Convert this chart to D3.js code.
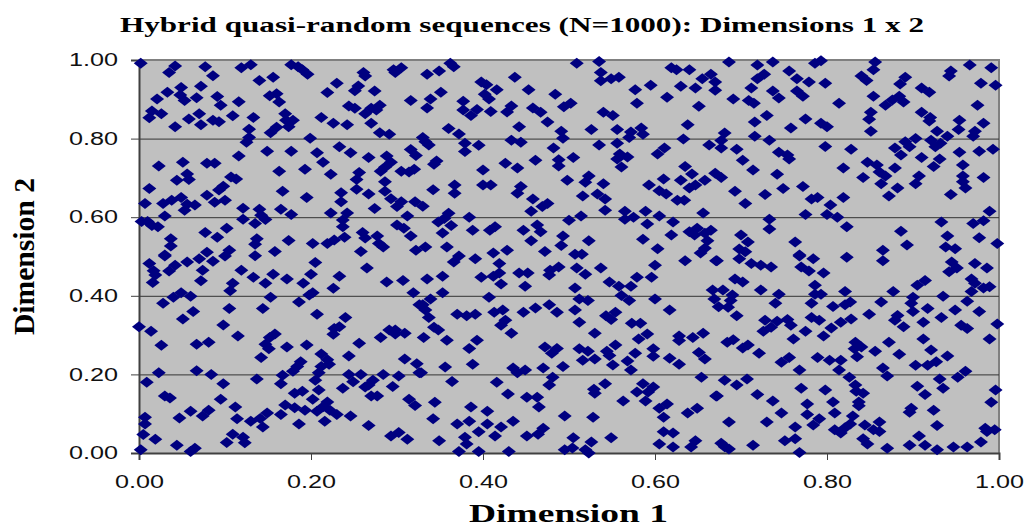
<!DOCTYPE html>
<html><head><meta charset="utf-8"><script src="https://cdn.jsdelivr.net/npm/d3@7"></script>
<style>html,body{margin:0;padding:0;background:#fff}svg{display:block}</style></head><body>
<svg id="c" width="1030" height="527"></svg>
<script>
const chartTitle = "Hybrid quasi-random sequences (N=1000): Dimensions 1 x 2";
const xLabel = "Dimension 1";
const yLabel = "Dimension 2";
const xTicks = [0,0.2,0.4,0.6,0.8,1];
const yTicks = [0,0.2,0.4,0.6,0.8,1];

const upperLeft = [[.002,.992],[.042,.985],[.035,.968],[.077,.983],[.086,.960],[.119,.980],[.130,.988],[.140,.948],[.156,.956],[.177,.988],[.185,.983],[.190,.975],[.196,.964],[.261,.968],[.263,.959],[.296,.975],[.305,.980],[.298,.968],[.230,.941],[.219,.917],[.255,.934],[.251,.922],[.274,.921],[.049,.930],[.072,.933],[.033,.918],[.048,.911],[.021,.901],[.053,.897],[.067,.904],[.091,.907],[.095,.885],[.116,.894],[.152,.909],[.160,.914],[.163,.893],[.316,.897],[.015,.870],[.026,.863],[.012,.853],[.070,.863],[.058,.850],[.072,.835],[.042,.830],[.086,.847],[.093,.843],[.109,.858],[.133,.854],[.170,.863],[.171,.847],[.179,.847],[.174,.830],[.160,.829],[.153,.815],[.212,.854],[.226,.839],[.242,.835],[.244,.883],[.251,.877],[.263,.863],[.270,.877],[.276,.873],[.280,.885],[.270,.839],[.280,.815],[.291,.811],[.128,.824],[.128,.803],[.125,.791],[.199,.801],[.233,.779],[.246,.764],[.316,.772],[.322,.757],[.116,.756],[.149,.768],[.177,.768],[.207,.764],[.214,.740],[.267,.752],[.288,.756],[.293,.740],[.286,.727],[.281,.717],[.305,.717],[.314,.715],[.320,.722],[.023,.730],[.051,.740],[.079,.737],[.088,.737],[.163,.717],[.193,.722],[.223,.709],[.256,.714],[.253,.696],[.056,.710],[.058,.696],[.044,.694],[.107,.702],[.113,.697],[.012,.673],[.286,.690],[.253,.671],[.235,.662],[.267,.659],[.286,.666],[.167,.666],[.195,.650],[.293,.647],[.305,.639],[.300,.627],[.321,.639],[.235,.639],[.274,.622],[.098,.679],[.093,.669],[.079,.656],[.088,.638],[.100,.643],[.007,.635],[.028,.635],[.038,.643],[.049,.650],[.056,.633],[.065,.631],[.053,.618],[.121,.623],[.140,.620],[.165,.620],[.142,.605],[.177,.607],[.147,.594],[.223,.611],[.242,.611],[.030,.603],[.121,.595],[.135,.584],[.312,.603],[.237,.593],[.237,.576],[.003,.589],[.010,.589],[.015,.579],[.022,.576],[.300,.580],[.308,.572],[.102,.572],[.077,.561],[.091,.549],[.037,.545],[.037,.527],[.260,.561],[.263,.547],[.277,.552],[.316,.552],[.239,.549],[.227,.542],[.219,.533],[.202,.533],[.174,.541],[.137,.545],[.135,.531],[.279,.533],[.284,.524],[.322,.516],[.158,.513],[.258,.513],[.105,.516],[.079,.511],[.030,.504]];

const lowerLeft = [[.030,.501],[.012,.482],[.042,.478],[.056,.486],[.070,.494],[.086,.488],[.100,.501],[.135,.502],[.205,.485],[.265,.471],[.035,.463],[.017,.464],[.019,.453],[.016,.434],[.074,.465],[.072,.438],[.119,.465],[.133,.447],[.156,.455],[.147,.432],[.172,.443],[.200,.455],[.191,.432],[.233,.450],[.288,.435],[.307,.439],[.109,.432],[.106,.413],[.049,.408],[.040,.396],[.060,.399],[.028,.381],[.226,.419],[.202,.408],[.198,.402],[.153,.396],[.186,.384],[.319,.408],[.326,.377],[.105,.368],[.144,.368],[.063,.360],[.051,.341],[.207,.353],[.240,.345],[.098,.326],[.233,.321],[.227,.317],[.226,.302],[0,.321],[.014,.310],[.291,.313],[.298,.313],[.298,.303],[.309,.305],[.281,.294],[.158,.303],[.152,.294],[.115,.298],[.026,.274],[.067,.277],[.081,.282],[.147,.277],[.151,.265],[.172,.270],[.195,.275],[.256,.279],[.212,.252],[.142,.243],[.244,.247],[.309,.239],[.323,.227],[.188,.232],[.184,.220],[.179,.208],[.219,.237],[.221,.226],[.212,.220],[.209,.204],[.023,.204],[.067,.209],[.084,.200],[.167,.198],[.244,.200],[.258,.200],[.284,.200],[.302,.196],[.326,.204],[.137,.188],[.205,.185],[.249,.181],[.272,.185],[.267,.173],[.263,.168],[.295,.169],[.009,.180],[.098,.176],[.165,.176],[.237,.165],[.209,.160],[.181,.152],[.190,.157],[.030,.145],[.036,.140],[.095,.137],[.202,.137],[.270,.145],[.277,.145],[.314,.137],[.321,.121],[.112,.117],[.170,.122],[.181,.115],[.193,.109],[.219,.130],[.214,.118],[.207,.106],[.222,.109],[.230,.098],[.246,.094],[.007,.091],[.007,.074],[.060,.106],[.081,.109],[.074,.094],[.047,.089],[.149,.102],[.165,.098],[.114,.087],[.130,.081],[.141,.088],[.144,.066],[.186,.074],[.216,.081],[.267,.070],[.005,.047],[.019,.035],[.109,.048],[.121,.040],[.123,.026],[.102,.027],[.293,.043],[.302,.052],[.312,.035],[.044,.020],[.065,.012],[.060,.004],[.002,.008]];

const upperMiddle = [[.362,.992],[.366,.983],[.349,.972],[.335,.964],[.509,.992],[.535,.996],[.537,.968],[.437,.956],[.398,.944],[.404,.937],[.549,.952],[.558,.956],[.537,.947],[.619,.980],[.625,.975],[.640,.975],[.665,.964],[.655,.952],[.670,.944],[.670,.923],[.416,.924],[.595,.936],[.453,.924],[.577,.924],[.630,.933],[.647,.929],[.351,.918],[.339,.901],[.402,.913],[.407,.901],[.484,.913],[.614,.905],[.377,.895],[.335,.878],[.377,.873],[.393,.874],[.386,.859],[.409,.869],[.433,.883],[.428,.868],[.579,.890],[.651,.882],[.502,.890],[.494,.881],[.458,.878],[.467,.867],[.540,.867],[.551,.859],[.475,.842],[.442,.830],[.360,.826],[.372,.812],[.638,.835],[.526,.823],[.556,.823],[.584,.827],[.491,.819],[.572,.817],[.586,.811],[.570,.803],[.493,.801],[.330,.803],[.337,.784],[.333,.792],[.379,.788],[.395,.783],[.379,.767],[.433,.796],[.444,.791],[.633,.799],[.535,.784],[.556,.788],[.482,.776],[.663,.784],[.611,.776],[.603,.761],[.559,.761],[.568,.753],[.556,.748],[.505,.752],[.461,.745],[.488,.746],[.488,.730],[.346,.743],[.343,.735],[.426,.737],[.440,.725],[.400,.720],[.561,.728],[.635,.729],[.643,.710],[.670,.712],[.498,.694],[.523,.705],[.519,.689],[.540,.685],[.610,.697],[.630,.694],[.658,.694],[.593,.682],[.647,.682],[.640,.674],[.342,.670],[.367,.682],[.367,.661],[.400,.682],[.409,.682],[.444,.678],[.440,.661],[.605,.667],[.613,.659],[.516,.654],[.533,.659],[.542,.646],[.458,.646],[.626,.643],[.634,.643],[.475,.635],[.469,.627],[.456,.615],[.330,.628],[.542,.618],[.565,.615],[.589,.615],[.656,.611],[.360,.610],[.355,.597],[.348,.588],[.384,.600],[.514,.603],[.605,.603],[.575,.600],[.500,.592],[.565,.595],[.363,.579],[.591,.583],[.621,.588],[.353,.560],[.388,.567],[.414,.576],[.408,.567],[.447,.567],[.463,.580],[.467,.563],[.493,.552],[.619,.555],[.640,.563],[.649,.572],[.646,.555],[.665,.567],[.658,.559],[.661,.540],[.456,.540],[.586,.544],[.523,.540],[.491,.528],[.358,.524],[.603,.520],[.428,.516],[.412,.509],[.472,.513],[.658,.521],[.653,.509],[.333,.524],[.507,.506],[.515,.506]];

const lowerMiddle = [[.372,.501],[.366,.486],[.391,.494],[.419,.482],[.335,.443],[.353,.450],[.398,.447],[.412,.450],[.419,.458],[.442,.458],[.452,.458],[.478,.465],[.488,.473],[.477,.453],[.509,.471],[.519,.455],[.537,.471],[.600,.478],[.635,.489],[.671,.489],[.547,.435],[.558,.424],[.572,.424],[.579,.447],[.596,.447],[.421,.430],[.449,.424],[.507,.420],[.353,.408],[.339,.392],[.407,.396],[.512,.392],[.522,.388],[.561,.401],[.570,.388],[.600,.392],[.330,.377],[.333,.364],[.337,.345],[.370,.353],[.381,.349],[.391,.353],[.413,.358],[.423,.364],[.447,.358],[.461,.369],[.477,.377],[.486,.358],[.507,.364],[.617,.364],[.554,.358],[.543,.349],[.549,.340],[.512,.333],[.573,.330],[.583,.330],[.426,.338],[.421,.325],[.433,.305],[.343,.320],[.348,.313],[.530,.305],[.591,.303],[.581,.290],[.628,.298],[.628,.286],[.644,.294],[.656,.305],[.331,.294],[.358,.287],[.393,.287],[.384,.266],[.472,.270],[.486,.266],[.480,.254],[.512,.265],[.522,.259],[.554,.275],[.544,.259],[.547,.248],[.577,.254],[.598,.265],[.598,.246],[.516,.236],[.530,.239],[.617,.241],[.651,.256],[.658,.239],[.551,.224],[.568,.234],[.572,.211],[.628,.226],[.356,.219],[.388,.226],[.328,.204],[.435,.216],[.440,.204],[.449,.211],[.470,.216],[.493,.220],[.481,.193],[.654,.193],[.364,.182],[.416,.180],[.477,.173],[.542,.176],[.586,.176],[.598,.168],[.579,.155],[.592,.155],[.529,.162],[.530,.152],[.429,.150],[.451,.142],[.463,.142],[.465,.117],[.344,.129],[.563,.132],[.589,.132],[.671,.145],[.386,.117],[.405,.106],[.614,.125],[.605,.114],[.610,.091],[.649,.114],[.638,.102],[.495,.094],[.528,.091],[.342,.087],[.384,.081],[.370,.074],[.405,.074],[.421,.066],[.435,.081],[.395,.054],[.414,.043],[.470,.063],[.464,.048],[.451,.043],[.610,.054],[.621,.051],[.379,.040],[.381,.023],[.349,.031],[.505,.039],[.526,.028],[.549,.039],[.647,.031],[.605,.023],[.621,.015],[.642,.015],[.372,.004],[.395,.004],[.430,.004],[.495,.008],[.504,.013],[.519,.008],[.523,0]];

const upperRight = [[.686,.995],[.719,.987],[.737,.995],[.756,.972],[.786,.992],[.793,.998],[.856,.995],[.854,.975],[.727,.964],[.719,.952],[.765,.952],[.779,.944],[.798,.941],[.840,.959],[.846,.948],[.891,.956],[.885,.939],[.944,.972],[.942,.959],[.966,.987],[.991,.980],[.979,.941],[.996,.936],[.712,.929],[.737,.921],[.744,.903],[.765,.921],[.772,.908],[.691,.901],[.709,.897],[.715,.890],[.814,.890],[.854,.908],[.910,.929],[.919,.918],[.884,.908],[.889,.893],[.876,.898],[.868,.885],[.975,.885],[.851,.867],[.849,.849],[.910,.867],[.920,.854],[.919,.845],[.730,.859],[.716,.842],[.775,.850],[.793,.839],[.800,.830],[.758,.827],[.954,.847],[.982,.839],[.953,.823],[.972,.819],[.970,.806],[.681,.814],[.851,.819],[.928,.819],[.940,.806],[.716,.806],[.677,.795],[.733,.796],[.903,.800],[.891,.792],[.896,.779],[.921,.796],[.932,.788],[.926,.779],[.677,.776],[.695,.773],[.798,.780],[.828,.773],[.879,.776],[.886,.758],[.954,.765],[.977,.768],[.993,.773],[.744,.765],[.754,.758],[.756,.748],[.702,.745],[.910,.752],[.931,.748],[.847,.740],[.858,.733],[.879,.725],[.924,.729],[.958,.733],[.819,.725],[.714,.720],[.742,.709],[.677,.701],[.861,.715],[.868,.705],[.842,.701],[.907,.705],[.958,.705],[.982,.701],[.863,.685],[.903,.685],[.958,.690],[.961,.674],[.882,.674],[.693,.666],[.749,.673],[.772,.678],[.728,.658],[.872,.654],[.944,.658],[.789,.650],[.782,.646],[.819,.650],[.705,.635],[.804,.631],[.989,.615],[.775,.607],[.800,.607],[.812,.600],[.733,.595],[.933,.588],[.823,.576],[.970,.584],[.982,.591],[.733,.570],[.886,.564],[.700,.555],[.940,.552],[.977,.548],[.763,.537],[.708,.537],[.893,.529],[.998,.533],[.698,.519],[.705,.512],[.938,.524],[.949,.520],[.865,.516],[.768,.504]];

const lowerRight = [[.672,.489],[.698,.494],[.712,.482],[.723,.478],[.735,.473],[.768,.501],[.784,.494],[.823,.498],[.865,.489],[.770,.473],[.779,.463],[.796,.458],[.945,.486],[.951,.471],[.942,.461],[.972,.482],[.986,.471],[.693,.443],[.702,.435],[.723,.415],[.786,.427],[.679,.415],[.667,.415],[.744,.404],[.786,.404],[.793,.404],[.821,.411],[.877,.411],[.914,.439],[.905,.427],[.968,.443],[.972,.432],[.989,.423],[.982,.420],[.968,.411],[.935,.399],[.690,.402],[.669,.392],[.688,.388],[.674,.372],[.685,.371],[.740,.381],[.782,.381],[.807,.373],[.821,.377],[.827,.384],[.863,.384],[.900,.396],[.898,.381],[.917,.368],[.963,.386],[.949,.364],[.977,.360],[.900,.360],[.695,.349],[.728,.338],[.742,.335],[.735,.320],[.726,.310],[.754,.340],[.758,.325],[.782,.345],[.791,.338],[.816,.333],[.828,.341],[.849,.353],[.882,.350],[.879,.338],[.889,.321],[.912,.333],[.933,.345],[.956,.325],[.963,.317],[.998,.328],[.775,.310],[.805,.318],[.796,.298],[.761,.290],[.684,.282],[.691,.288],[.702,.267],[.708,.275],[.833,.282],[.840,.270],[.832,.265],[.872,.282],[.912,.290],[.989,.290],[.921,.262],[.856,.259],[.721,.254],[.835,.245],[.884,.251],[.940,.247],[.789,.243],[.756,.243],[.747,.231],[.803,.236],[.816,.236],[.814,.211],[.768,.211],[.903,.223],[.917,.223],[.927,.232],[.865,.216],[.870,.196],[.961,.208],[.952,.193],[.826,.193],[.681,.185],[.707,.188],[.695,.173],[.931,.188],[.770,.165],[.798,.160],[.833,.173],[.905,.170],[.935,.165],[.996,.160],[.672,.145],[.719,.149],[.737,.132],[.834,.157],[.842,.152],[.914,.149],[.807,.130],[.777,.125],[.837,.130],[.837,.120],[.991,.129],[.898,.114],[.896,.104],[.924,.109],[.809,.102],[.777,.098],[.747,.102],[.830,.094],[.686,.079],[.730,.079],[.791,.087],[.784,.071],[.763,.066],[.861,.079],[.844,.071],[.827,.074],[.821,.064],[.809,.059],[.816,.051],[.854,.059],[.861,.055],[.928,.070],[.984,.063],[.986,.055],[.995,.059],[.907,.043],[.842,.036],[.847,.023],[.677,.025],[.681,.016],[.686,.010],[.714,.020],[.751,.031],[.763,.036],[.896,.020],[.914,.020],[.979,.028],[.947,.015],[.963,.015],[.870,.012],[.928,.008],[.768,.001]];

const points = [].concat(upperLeft, lowerLeft, upperMiddle, lowerMiddle, upperRight, lowerRight);

const svg = d3.select("#c");
const plot = {left:139, right:999, top:60, bottom:453};
const x = d3.scaleLinear().domain([0,1]).range([plot.left, plot.right]);
const y = d3.scaleLinear().domain([0,1]).range([plot.bottom, plot.top]);

svg.append("rect").attr("x",plot.left).attr("y",plot.top)
  .attr("width",plot.right-plot.left).attr("height",plot.bottom-plot.top)
  .attr("fill","#c0c0c0");
svg.append("path").attr("d",`M${plot.left},${plot.top}H${plot.right}V${plot.bottom}`)
  .attr("fill","none").attr("stroke","#808080").attr("stroke-width",2);

svg.append("g").selectAll("line").data(yTicks.filter(t=>t>0&&t<1)).join("line")
  .attr("x1",plot.left).attr("x2",plot.right)
  .attr("y1",d=>y(d)+.5).attr("y2",d=>y(d)+.5)
  .attr("stroke","#333").attr("stroke-width",1);

const fmt = d3.format(".2f");
const gx = svg.append("g").attr("transform",`translate(0,${plot.bottom})`)
  .call(d3.axisBottom(x).tickValues(xTicks).tickFormat(fmt).tickSize(7).tickPadding(15));
const gy = svg.append("g").attr("transform",`translate(${plot.left},0)`)
  .call(d3.axisLeft(y).tickValues(yTicks).tickFormat(fmt).tickSize(8).tickPadding(13));
[gx,gy].forEach(g=>{
  g.selectAll("text").attr("font-family","'Liberation Sans',Arial,sans-serif").attr("font-size",18)
   .attr("fill","#111").attr("textLength",49).attr("lengthAdjust","spacingAndGlyphs");
  g.select(".domain").attr("stroke","#404040").attr("stroke-width",2);
  g.selectAll(".tick line").attr("stroke","#404040");
});

const diamond = "M0,-5.5L7,0L0,5.5L-7,0Z";
svg.append("g").selectAll("path").data(points).join("path")
  .attr("d",diamond)
  .attr("transform",d=>`translate(${x(d[0])},${y(d[1])})`)
  .attr("fill","#000080");

const serif = "'Liberation Serif','Times New Roman',serif";
svg.append("text").attr("x",522).attr("y",32).attr("text-anchor","middle")
  .attr("font-family",serif).attr("font-weight","bold").attr("font-size",20)
  .attr("textLength",804).attr("lengthAdjust","spacingAndGlyphs").text(chartTitle);
svg.append("text").attr("x",568.5).attr("y",521.5).attr("text-anchor","middle")
  .attr("font-family",serif).attr("font-weight","bold").attr("font-size",25)
  .attr("textLength",199).attr("lengthAdjust","spacingAndGlyphs").text(xLabel);
svg.append("text").attr("transform","translate(34,256.5) rotate(-90)").attr("text-anchor","middle")
  .attr("font-family",serif).attr("font-weight","bold").attr("font-size",30)
  .attr("textLength",157).attr("lengthAdjust","spacingAndGlyphs").text(yLabel);
</script></body></html>
